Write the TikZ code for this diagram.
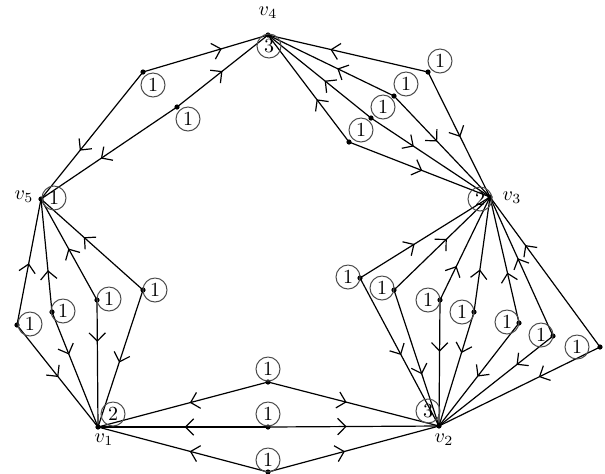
\documentclass[tikz,border=0pt]{standalone}
\usetikzlibrary{arrows.meta,decorations.markings}
\tikzset{
  edge/.style={line width=0.6pt,black},
  oe/.style={postaction={decorate},decoration={markings,
     mark=at position #1 with {\arrow{Straight Barb[angle=90:5.8pt,line width=0.6pt]}}}},
  cnum/.style={circle,draw=black!70,line width=0.5pt,inner sep=0pt,minimum size=12pt,font=\normalsize},
  vlab/.style={inner sep=0pt,font=\normalsize},
}
\newcommand{\dotat}[1]{\fill (#1) circle (2.6);}
\begin{document}
\begin{tikzpicture}[x=0.5pt,y=-0.5pt]
\useasboundingbox (0,0) rectangle (605,473);
% main vertices
\coordinate (v4) at (268,35);
\coordinate (v5) at (41,199);
\coordinate (v3) at (490,197);
\coordinate (v1) at (98,427);
\coordinate (v2) at (439,426);
% subdivision vertices
\coordinate (a1) at (143,72);
\coordinate (a2) at (177,107);
\coordinate (t1) at (428,72);
\coordinate (t2) at (394,96);
\coordinate (t3) at (371,118);
\coordinate (t4) at (349,142);
\coordinate (l1) at (17,325);
\coordinate (l2) at (52,312);
\coordinate (l3) at (97,300);
\coordinate (l4) at (143,290);
\coordinate (b1) at (268,382);
\coordinate (b2) at (268,427);
\coordinate (b3) at (268,472);
\coordinate (r1) at (360,278);
\coordinate (r2) at (394,290);
\coordinate (r3) at (440,300);
\coordinate (r4) at (474,312);
\coordinate (r5) at (519,323);
\coordinate (r6) at (553,336);
\coordinate (r7) at (600,347);
% edges v4-v5
\draw[edge,oe=0.63] (a1) -- (v4);
\draw[edge,oe=0.62] (a1) -- (v5);
\draw[edge,oe=0.50] (a2) -- (v4);
\draw[edge,oe=0.56] (a2) -- (v5);
% edges v4-v3
\draw[edge,oe=0.61] (t1) -- (v4);
\draw[edge,oe=0.52] (t1) -- (v3);
\draw[edge,oe=0.45] (t2) -- (v4);
\draw[edge,oe=0.45] (t2) -- (v3);
\draw[edge,oe=0.45] (t3) -- (v4);
\draw[edge,oe=0.36] (t3) -- (v3);
\draw[edge,oe=0.40] (t4) -- (v4);
\draw[edge,oe=0.52] (t4) -- (v3);
% edges v5-v1
\draw[edge,oe=0.49] (l1) -- (v5);
\draw[edge,oe=0.51] (l1) -- (v1);
\draw[edge,oe=0.37] (l2) -- (v5);
\draw[edge,oe=0.37] (l2) -- (v1);
\draw[edge,oe=0.51] (l3) -- (v5);
\draw[edge,oe=0.33] (l3) -- (v1);
\draw[edge,oe=0.58] (l4) -- (v5);
\draw[edge,oe=0.53] (l4) -- (v1);
% edges v1-v2
\draw[edge,oe=0.46] (b1) -- (v1);
\draw[edge,oe=0.46] (b1) -- (v2);
\draw[edge,oe=0.49] (b2) -- (v1);
\draw[edge,oe=0.46] (b2) -- (v2);
\draw[edge,oe=0.46] (b3) -- (v1);
\draw[edge,oe=0.45] (b3) -- (v2);
% edges v3-v2
\draw[edge,oe=0.42] (r1) -- (v3);
\draw[edge,oe=0.52] (r1) -- (v2);
\draw[edge,oe=0.55] (r2) -- (v3);
\draw[edge,oe=0.62] (r2) -- (v2);
\draw[edge,oe=0.33] (r3) -- (v3);
\draw[edge,oe=0.41] (r3) -- (v2);
\draw[edge,oe=0.37] (r4) -- (v3);
\draw[edge,oe=0.36] (r4) -- (v2);
\draw[edge,oe=0.40] (r5) -- (v3);
\draw[edge,oe=0.52] (r5) -- (v2);
\draw[edge,oe=0.56] (r6) -- (v3);
\draw[edge,oe=0.32] (r6) -- (v2);
\draw[edge,oe=0.68] (r7) -- (v3);
\draw[edge,oe=0.38] (r7) -- (v2);
% dots
\foreach \p in {v1,v2,v3,v4,v5,a1,a2,t1,t2,t3,t4,l1,l2,l3,l4,b1,b2,b3,r1,r2,r3,r4,r5,r6,r7}{\dotat{\p}}
% circled numbers
\node[cnum] (cv4) at (269,46) {3};
\node[cnum] (cv5) at (54,198) {1};
\node[cnum] (cv3) at (480,199) {2};
\node[cnum] (cv1) at (113,414) {2};
\node[cnum] (cv2) at (428,411) {3};
\node[cnum] (ca1) at (153,85) {1};
\node[cnum] (ca2) at (188,119) {1};
\node[cnum] (ct1) at (440,61) {1};
\node[cnum] (ct2) at (406,84) {1};
\node[cnum] (ct3) at (383,107) {1};
\node[cnum] (ct4) at (361,130) {1};
\node[cnum] (cl1) at (30,324) {1};
\node[cnum] (cl2) at (63,311) {1};
\node[cnum] (cl3) at (109,299) {1};
\node[cnum] (cl4) at (155,290) {1};
\node[cnum] (cb1) at (268,369) {1};
\node[cnum] (cb2) at (268,414) {1};
\node[cnum] (cb3) at (268,460) {1};
\node[cnum] (cr1) at (348,277) {1};
\node[cnum] (cr2) at (382,288) {1};
\node[cnum] (cr3) at (428,300) {1};
\node[cnum] (cr4) at (462,312) {1};
\node[cnum] (cr5) at (507,322) {1};
\node[cnum] (cr6) at (541,335) {1};
\node[cnum] (cr7) at (577,347) {1};
% vertex labels
\node[vlab] (lv4) at (268,13) {$v_4$};
\node[vlab] (lv5) at (24,197) {$v_5$};
\node[vlab] (lv3) at (512,198) {$v_3$};
\node[vlab] (lv1) at (104,440) {$v_1$};
\node[vlab] (lv2) at (444,440) {$v_2$};
\end{tikzpicture}
\end{document}
